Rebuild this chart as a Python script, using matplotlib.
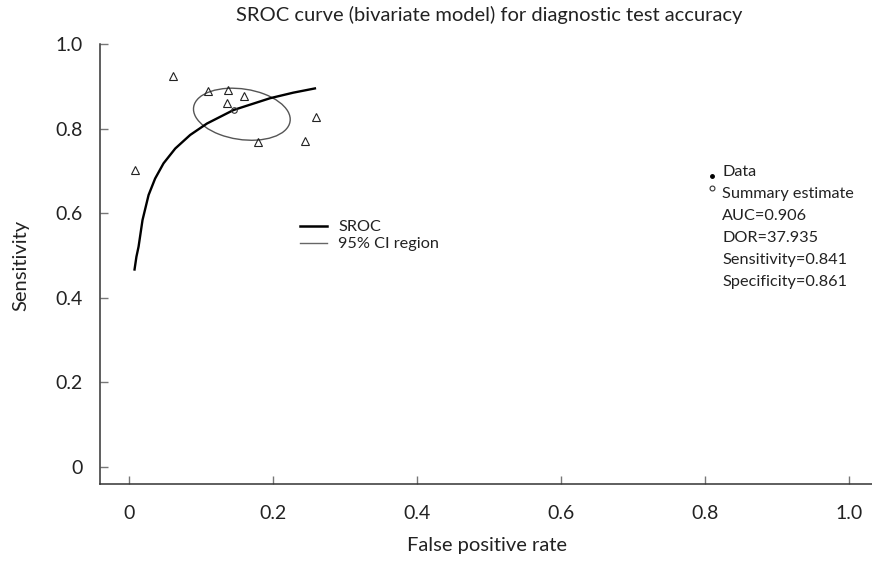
import numpy as np
import matplotlib
matplotlib.use("Agg")
import matplotlib.pyplot as plt
from matplotlib.patches import Ellipse
from matplotlib.lines import Line2D

plt.rcParams['font.family'] = ['Lato', 'DejaVu Sans']

# study points (false positive rate, sensitivity)
study_fpr = [0.0074, 0.0615, 0.109, 0.137, 0.159, 0.136, 0.259, 0.179, 0.244]
study_sens = [0.702, 0.924, 0.889, 0.891, 0.878, 0.860, 0.827, 0.769, 0.771]

# summary estimate
summary_fpr = 0.145
summary_sens = 0.844

# SROC curve
sroc_fpr = [0.0074, 0.0100, 0.0130, 0.0185, 0.0269, 0.036, 0.0477, 0.064, 0.0847,
            0.108, 0.145, 0.196, 0.228, 0.258]
sroc_sens = [0.467, 0.497, 0.521, 0.584, 0.643, 0.682, 0.718, 0.753, 0.785,
             0.812, 0.844, 0.872, 0.885, 0.895]

# 95% confidence region: centre, half extents, correlation
ci_center = (0.1565, 0.834)
ci_half_x = 0.0672
ci_half_y = 0.0615
ci_rho = -0.2

legend_stats = ["AUC=0.906", "DOR=37.935", "Sensitivity=0.841", "Specificity=0.861"]

W, H = 872, 564
fig = plt.figure(figsize=(W / 100, H / 100), dpi=100)


def fx(px):
    return px / W


def fy(py):
    return 1 - py / H


ax = fig.add_axes([fx(99.7), fy(484), fx(872) - fx(99.7), fy(44) - fy(484)])
ax.set_xlim(-0.041, 1.032)
ax.set_ylim(-0.040, 1.0)

for s in ['top', 'right']:
    ax.spines[s].set_visible(False)
for s in ['left', 'bottom']:
    ax.spines[s].set_color('#333333')
    ax.spines[s].set_linewidth(1.1)

ax.set_xticks([0, 0.2, 0.4, 0.6, 0.8, 1.0])
ax.set_xticklabels(['0', '0.2', '0.4', '0.6', '0.8', '1.0'])
ax.set_yticks([0, 0.2, 0.4, 0.6, 0.8, 1.0])
ax.set_yticklabels(['0', '0.2', '0.4', '0.6', '0.8', '1.0'])
ax.tick_params(axis='both', direction='in', length=6, width=1, color='#777777',
               labelsize=14, labelcolor='#222222')
ax.tick_params(axis='x', pad=15)
ax.tick_params(axis='y', pad=12)

# confidence ellipse
cov = np.array([[ci_half_x ** 2, ci_rho * ci_half_x * ci_half_y],
                [ci_rho * ci_half_x * ci_half_y, ci_half_y ** 2]])
w, v = np.linalg.eigh(cov)
angle = np.degrees(np.arctan2(v[1, 1], v[0, 1]))
ell = Ellipse(ci_center, 2 * np.sqrt(w[1]), 2 * np.sqrt(w[0]), angle=angle,
              fill=False, edgecolor='#555555', linewidth=1.0)
ax.add_patch(ell)

ax.plot(sroc_fpr, sroc_sens, color='black', linewidth=1.7)
ax.plot(study_fpr, study_sens, linestyle='none', marker='^', markersize=6,
        markerfacecolor='none', markeredgecolor='#222222', markeredgewidth=0.8)
ax.plot([summary_fpr], [summary_sens], linestyle='none', marker='o', markersize=4,
        markerfacecolor='none', markeredgecolor='#333333', markeredgewidth=0.8)

ax.set_xlabel('False positive rate', fontsize=14.5, color='#222222')
ax.xaxis.set_label_coords(fx(487), fy(537), transform=fig.transFigure)
ax.set_ylabel('Sensitivity', fontsize=14.5, color='#222222')
ax.yaxis.set_label_coords(fx(29), fy(265), transform=fig.transFigure)
fig.text(fx(489), fy(15), 'SROC curve (bivariate model) for diagnostic test accuracy',
         ha='center', va='center', fontsize=14.5, color='#222222')

# legend for lines
fig.add_artist(Line2D([fx(300), fx(327)], [fy(226), fy(226)], color='black', linewidth=1.8))
fig.add_artist(Line2D([fx(300), fx(327)], [fy(243), fy(243)], color='#666666', linewidth=1.0))
fig.text(fx(338), fy(227), 'SROC', ha='left', va='center', fontsize=11.7, color='#222222')
fig.text(fx(338), fy(244), '95% CI region', ha='left', va='center', fontsize=11.7, color='#222222')

# legend for points and statistics
fig.add_artist(Line2D([fx(712)], [fy(176)], marker='o', markersize=2.5, color='black'))
fig.add_artist(Line2D([fx(712)], [fy(188)], marker='o', markersize=3.5,
                      markerfacecolor='none', markeredgecolor='#333333', markeredgewidth=0.8))
rows = ['Data', 'Summary estimate'] + legend_stats
ys = [172, 194, 216, 238, 260, 282]
for t, yy in zip(rows, ys):
    fig.text(fx(722), fy(yy), t, ha='left', va='center', fontsize=11.7, color='#222222')

fig.savefig('out.png', dpi=100)
